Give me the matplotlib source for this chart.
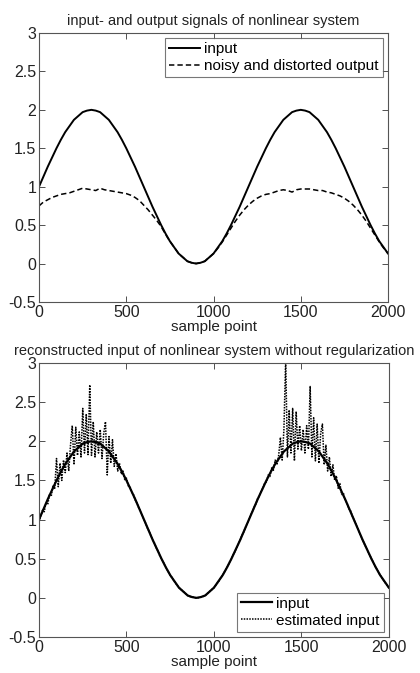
import numpy as np
import matplotlib
matplotlib.use("Agg")
import matplotlib.pyplot as plt

plt.rcParams['font.family'] = ['Liberation Sans', 'DejaVu Sans']

# sample index grids
n_coarse = np.arange(0, 2001, 25)
n_fine = np.arange(0, 2001, 10)

# input signal, every 25 samples
input_signal = [1.00, 1.13, 1.26, 1.38, 1.50, 1.61, 1.71, 1.79, 1.87, 1.92,
                1.97, 1.99, 2.00, 1.99, 1.97, 1.92, 1.87, 1.79, 1.71, 1.61,
                1.50, 1.38, 1.26, 1.13, 1.00, 0.87, 0.74, 0.62, 0.50, 0.39,
                0.29, 0.21, 0.13, 0.08, 0.03, 0.01, 0.00, 0.01, 0.03, 0.08,
                0.13, 0.21, 0.29, 0.39, 0.50, 0.62, 0.74, 0.87, 1.00, 1.13,
                1.26, 1.38, 1.50, 1.61, 1.71, 1.79, 1.87, 1.92, 1.97, 1.99,
                2.00, 1.99, 1.97, 1.92, 1.87, 1.79, 1.71, 1.61, 1.50, 1.38,
                1.26, 1.13, 1.00, 0.87, 0.74, 0.62, 0.50, 0.39, 0.29, 0.21,
                0.13]

# noisy and distorted system output, every 25 samples
output_signal = [0.75, 0.80, 0.83, 0.86, 0.88, 0.90, 0.91, 0.92, 0.94, 0.96,
                 0.98, 0.97, 0.96, 0.95, 0.98, 0.96, 0.95, 0.94, 0.93, 0.92,
                 0.91, 0.89, 0.86, 0.82, 0.76, 0.70, 0.63, 0.56, 0.48, 0.38,
                 0.29, 0.21, 0.13, 0.08, 0.03, 0.01, 0.00, 0.01, 0.03, 0.08,
                 0.13, 0.20, 0.28, 0.37, 0.46, 0.55, 0.63, 0.70, 0.76, 0.81,
                 0.85, 0.88, 0.90, 0.91, 0.93, 0.95, 0.96, 0.95, 0.93, 0.96,
                 0.97, 0.97, 0.97, 0.96, 0.95, 0.95, 0.93, 0.92, 0.90, 0.88,
                 0.85, 0.81, 0.76, 0.70, 0.63, 0.55, 0.46, 0.37, 0.28, 0.20,
                 0.13]

# reconstructed input (no regularization), every 10 samples
estimated_input = [
    0.97, 1.05, 1.12, 1.10, 1.22, 1.19, 1.33, 1.30, 1.44, 1.40,
    1.78, 1.42, 1.72, 1.50, 1.76, 1.60, 1.85, 1.62, 1.95, 2.20,
    1.70, 2.18, 1.82, 2.12, 1.80, 2.42, 1.85, 2.35, 1.83, 2.72,
    1.82, 2.25, 1.80, 2.12, 1.85, 2.15, 1.78, 2.10, 2.25, 1.57,
    2.06, 1.72, 2.02, 1.68, 1.84, 1.62, 1.72, 1.58, 1.62, 1.51,
    1.53, 1.43, 1.42, 1.35, 1.32, 1.25, 1.21, 1.15, 1.11, 1.05,
    1.00, 0.95, 0.89, 0.85, 0.79, 0.74, 0.70, 0.64, 0.60, 0.54,
    0.50, 0.46, 0.41, 0.37, 0.33, 0.29, 0.26, 0.22, 0.19, 0.16,
    0.13, 0.11, 0.09, 0.07, 0.05, 0.03, 0.02, 0.01, 0.01, 0.00,
    0.00, 0.00, 0.01, 0.01, 0.02, 0.03, 0.05, 0.07, 0.09, 0.11,
    0.13, 0.16, 0.19, 0.22, 0.26, 0.29, 0.33, 0.37, 0.41, 0.46,
    0.50, 0.55, 0.59, 0.64, 0.69, 0.74, 0.80, 0.84, 0.90, 0.95,
    1.00, 1.06, 1.10, 1.16, 1.20, 1.27, 1.30, 1.37, 1.40, 1.47,
    1.48, 1.57, 1.55, 1.66, 1.63, 1.76, 1.70, 1.82, 2.05, 1.76,
    2.15, 3.05, 1.80, 2.40, 1.85, 2.42, 1.75, 2.38, 1.90, 2.20,
    1.88, 2.15, 1.85, 2.20, 1.90, 2.70, 1.80, 2.30, 1.75, 2.22,
    1.72, 2.10, 2.22, 1.70, 1.95, 1.62, 1.80, 1.55, 1.70, 1.50,
    1.56, 1.40, 1.46, 1.32, 1.34, 1.24, 1.22, 1.14, 1.12, 1.05,
    1.00, 0.95, 0.90, 0.84, 0.79, 0.74, 0.69, 0.64, 0.59, 0.55,
    0.50, 0.46, 0.41, 0.37, 0.33, 0.29, 0.26, 0.22, 0.19, 0.16,
    0.13]

x_ticks = [0, 500, 1000, 1500, 2000]
y_ticks = [-0.5, 0, 0.5, 1, 1.5, 2, 2.5, 3]
y_tick_labels = ['-0.5', '0', '0.5', '1', '1.5', '2', '2.5', '3']

fig = plt.figure(figsize=(4.2, 6.73), dpi=100)
ax1 = fig.add_axes([0.0929, 0.5513, 0.8310, 0.3997])
ax2 = fig.add_axes([0.0929, 0.0535, 0.8330, 0.4071])

FS = 11


def style(ax, title):
    ax.set_xlim(0, 2000)
    ax.set_ylim(-0.5, 3)
    ax.set_xticks(x_ticks)
    ax.set_xticklabels([str(t) for t in x_ticks])
    ax.set_yticks(y_ticks)
    ax.set_yticklabels(y_tick_labels)
    ax.tick_params(direction='in', length=4, width=0.6, top=True, right=True,
                   labelsize=FS + 0.5, colors='#333333', labelcolor='#222222',
                   pad=2)
    for s in ax.spines.values():
        s.set_color('#555555')
        s.set_linewidth(0.8)
    ax.set_title(title, fontsize=FS - 0.5, color='#222222', pad=6)
    ax.set_xlabel('sample point', fontsize=FS, color='#222222', labelpad=0)


ax1.plot(n_coarse, input_signal, color='black', lw=1.4, label='input')
ax1.plot(n_coarse, output_signal, color='black', lw=1.1, ls=(0, (3.5, 2)),
         label='noisy and distorted output')
style(ax1, 'input- and output signals of nonlinear system')
leg1 = ax1.legend(loc='upper right', fontsize=FS, frameon=True, fancybox=False,
                  handlelength=2.0, handletextpad=0.3, borderpad=0.25,
                  labelspacing=0.2, borderaxespad=0.35)
leg1.get_frame().set_edgecolor('#555555')
leg1.get_frame().set_linewidth(0.8)

ax2.plot(n_coarse, input_signal, color='black', lw=1.6, label='input')
ax2.plot(n_fine, estimated_input, color='black', lw=1.1, ls=(0, (1, 0.8)),
         label='estimated input')
style(ax2, 'reconstructed input of nonlinear system without regularization')
leg2 = ax2.legend(loc='lower right', fontsize=FS, frameon=True, fancybox=False,
                  handlelength=2.0, handletextpad=0.3, borderpad=0.25,
                  labelspacing=0.2, borderaxespad=0.35)
leg2.get_frame().set_edgecolor('#555555')
leg2.get_frame().set_linewidth(0.8)

fig.savefig('out.png', dpi=100, facecolor='white')
